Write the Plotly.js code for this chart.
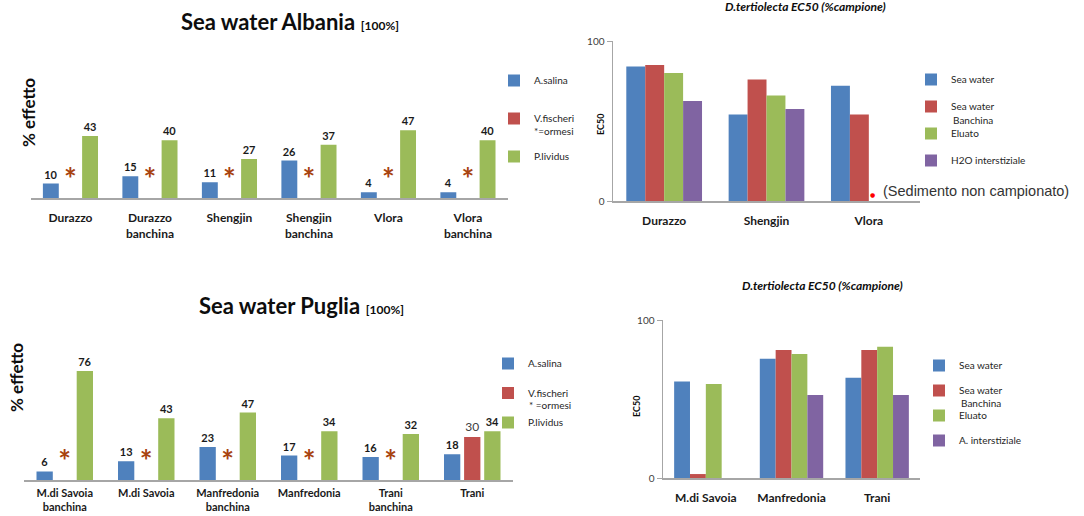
<!DOCTYPE html>
<html><head><meta charset="utf-8">
<script src="https://cdn.plot.ly/plotly-3.0.1.min.js"></script>
<style>html,body{margin:0;padding:0;background:#fff}#chart{width:1084px;height:516px}</style>
</head><body><div id="chart"></div>
<script>
// ---------- data ----------
const albaniaSites = ["Durazzo","Durazzo<br>banchina","Shengjin","Shengjin<br>banchina","Vlora","Vlora<br>banchina"];
const albaniaAsalina = [10,15,11,26,4,4];
const albaniaVfischeri = [null,null,null,null,null,null];
const albaniaPlividus = [43,40,27,37,47,40];
const albaniaHormesis = ["*","*","*","*","*","*"];

const pugliaSites = ["M.di Savoia<br>banchina","M.di Savoia","Manfredonia<br>banchina","Manfredonia","Trani<br>banchina","Trani"];
const pugliaAsalina = [6,13,23,17,16,18];
const pugliaVfischeri = [null,null,null,null,null,30];
const pugliaPlividus = [76,43,47,34,32,34];
const pugliaHormesis = ["*","*","*","*","*",""];

const albaniaEcSites = ["Durazzo","Shengjin","Vlora"];
const albaniaEcSeaWater = [84,54,72];
const albaniaEcBanchina = [85,76,54];
const albaniaEcEluato = [80,66,null];
const albaniaEcH2O = [62.5,57.5,null];

const pugliaEcSites = ["M.di Savoia","Manfredonia","Trani"];
const pugliaEcSeaWater = [61,75.5,63.5];
const pugliaEcBanchina = [2.5,81,81];
const pugliaEcEluato = [59.5,78.5,83];
const pugliaEcInterstiziale = [null,52.5,52.5];

// ---------- styles ----------
const BLUE="#4F81BD", RED="#C0504D", GREEN="#9BBB59", PURPLE="#8064A2", STAR="#A8430F";
const FONT="Lato, 'Open Sans', sans-serif";
const GRAY="#A6A6A6";
const STAR_LEVEL = 11;
const W=1084, H=516;
const px = v => v/W, py = v => 1 - v/H;

const labelFont = {family:FONT,size:11,color:"#1a1a1a",weight:"bold"};

function pctBar(name,x,y,color,xa,ya,leg,grp,tf){
  return {type:"bar",name:name,x:x,y:y,xaxis:xa,yaxis:ya,legend:leg,legendgroup:grp,
    marker:{color:color},width:0.2,texttemplate:"%{y}",textposition:"outside",
    textfont:tf||labelFont,cliponaxis:false,hoverinfo:"x+y"};
}
function ecBar(name,x,y,color,xa,ya,leg,grp){
  return {type:"bar",name:name,x:x,y:y,xaxis:xa,yaxis:ya,legend:leg,legendgroup:grp,
    marker:{color:color},hoverinfo:"x+y"};
}
function stars(x,t,xa,ya){
  return {type:"scatter",mode:"text",x:x,y:x.map(()=>STAR_LEVEL),text:t,xaxis:xa,yaxis:ya,
    showlegend:false,textposition:"middle center",cliponaxis:false,
    textfont:{family:FONT,size:30,color:STAR,weight:"bold"},hoverinfo:"skip"};
}

const data = [
  pctBar("A.salina",albaniaSites,albaniaAsalina,BLUE,"x","y","legend","a1"),
  pctBar("V.fischeri",albaniaSites,albaniaVfischeri,RED,"x","y","legend","a2"),
  pctBar("P.lividus",albaniaSites,albaniaPlividus,GREEN,"x","y","legend","a3"),
  stars(albaniaSites,albaniaHormesis,"x","y"),

  ecBar("Sea water",albaniaEcSites,albaniaEcSeaWater,BLUE,"x2","y2","legend2","b1"),
  ecBar("Sea water",albaniaEcSites,albaniaEcBanchina,RED,"x2","y2","legend2","b2"),
  ecBar("Eluato",albaniaEcSites,albaniaEcEluato,GREEN,"x2","y2","legend2","b3"),
  ecBar("H2O interstiziale",albaniaEcSites,albaniaEcH2O,PURPLE,"x2","y2","legend2","b4"),

  pctBar("A.salina",pugliaSites,pugliaAsalina,BLUE,"x3","y3","legend3","c1"),
  pctBar("V.fischeri",pugliaSites,pugliaVfischeri,RED,"x3","y3","legend3","c2",
         {family:FONT,size:12,color:"#404040"}),
  pctBar("P.lividus",pugliaSites,pugliaPlividus,GREEN,"x3","y3","legend3","c3"),
  stars(pugliaSites,pugliaHormesis,"x3","y3"),

  ecBar("Sea water",pugliaEcSites,pugliaEcSeaWater,BLUE,"x4","y4","legend4","d1"),
  ecBar("Sea water",pugliaEcSites,pugliaEcBanchina,RED,"x4","y4","legend4","d2"),
  ecBar("Eluato",pugliaEcSites,pugliaEcEluato,GREEN,"x4","y4","legend4","d3"),
  ecBar("A. interstiziale",pugliaEcSites,pugliaEcInterstiziale,PURPLE,"x4","y4","legend4","d4")
];

function catAxis(domain,anchor,size,standoff){
  return {domain:domain,anchor:anchor,type:"category",showline:true,linecolor:GRAY,linewidth:1.5,
    showgrid:false,zeroline:false,ticks:"",ticklabelstandoff:standoff,
    tickfont:{family:FONT,size:size,color:"#1a1a1a",weight:"bold"},fixedrange:true};
}
function pctY(domain,anchor){
  return {domain:domain,anchor:anchor,range:[0,100],visible:false,fixedrange:true};
}
function ecY(domain,anchor){
  return {domain:domain,anchor:anchor,range:[0,100],tickvals:[0,100],showgrid:true,gridcolor:GRAY,gridwidth:1,
    showline:true,linecolor:GRAY,linewidth:1.5,ticks:"outside",ticklen:5,tickcolor:GRAY,zeroline:false,
    tickfont:{family:FONT,size:10,color:"#404040"},fixedrange:true};
}
function leg(x,y,gap){
  return {x:x,y:y,xanchor:"left",yanchor:"top",traceorder:"grouped",tracegroupgap:gap,
    bgcolor:"rgba(0,0,0,0)",borderwidth:0,font:{family:FONT,size:10,color:"#262626"}};
}
function ann(x,y,text,font,extra){
  return Object.assign({xref:"paper",yref:"paper",x:px(x),y:py(y),text:text,showarrow:false,
    xanchor:"center",yanchor:"middle",font:font},extra||{});
}

const titleFont={family:FONT,size:22,color:"#0d0d0d"};
const smallTitle={family:FONT,size:12,color:"#0d0d0d"};
const legFont={family:FONT,size:10,color:"#262626"};

const layout = {
  width:W,height:H,margin:{l:0,r:0,t:0,b:0},paper_bgcolor:"#fff",plot_bgcolor:"#fff",
  font:{family:FONT},barmode:"group",bargap:0.26,bargroupgap:0,hovermode:false,
  xaxis: catAxis([px(30.7),px(507.7)],"y",12,8),
  yaxis: pctY([py(198),py(53.8)],"x"),
  xaxis2: catAxis([px(613),px(920)],"y2",12,8),
  yaxis2: ecY([py(201),py(41)],"x2"),
  xaxis3: catAxis([px(24),px(513)],"y3",11,2),
  yaxis3: pctY([py(480),py(336.6)],"x3"),
  xaxis4: catAxis([px(663),px(920)],"y4",12,8),
  yaxis4: ecY([py(478),py(320)],"x4"),
  legend: leg(px(494),py(66),19),
  legend2: leg(px(911),py(65),8),
  legend3: leg(px(488),py(349),10.5),
  legend4: leg(px(919),py(351),6),
  annotations:[
    ann(290,22,"<b>Sea water Albania</b> <b><span style='font-size:12px'>[100%]</span></b>",titleFont),
    ann(301,305,"<b>Sea water Puglia</b> <b><span style='font-size:12px'>[100%]</span></b>",titleFont),
    ann(805,6,"<b><i>D.tertiolecta EC50 (%campione)</i></b>",smallTitle),
    ann(822,285,"<b><i>D.tertiolecta EC50 (%campione)</i></b>",smallTitle),
    ann(29,113,"<b>% effetto</b>",{family:FONT,size:17,color:"#0d0d0d"},{textangle:-90}),
    ann(16,378,"<b>% effetto</b>",{family:FONT,size:17,color:"#0d0d0d"},{textangle:-90}),
    ann(600,125,"<b>EC50</b>",{family:FONT,size:9,color:"#0d0d0d"},{textangle:-90}),
    ann(636,407,"<b>EC50</b>",{family:FONT,size:9,color:"#0d0d0d"},{textangle:-90}),
    ann(532,131,"*=ormesi",legFont,{xanchor:"left"}),
    ann(527,405,"* =ormesi",legFont,{xanchor:"left"}),
    ann(951,120,"Banchina",legFont,{xanchor:"left"}),
    ann(959,403,"Banchina",legFont,{xanchor:"left"}),
    ann(872,194,"●",{family:"DejaVu Sans",size:6,color:"#FF0000"}),
    ann(881,191,"(Sedimento non campionato)",{family:"Liberation Sans",size:14.5,color:"#333333"},{xanchor:"left"})
  ]
};

Plotly.newPlot("chart",data,layout,{displayModeBar:false,staticPlot:true});
</script></body></html>
